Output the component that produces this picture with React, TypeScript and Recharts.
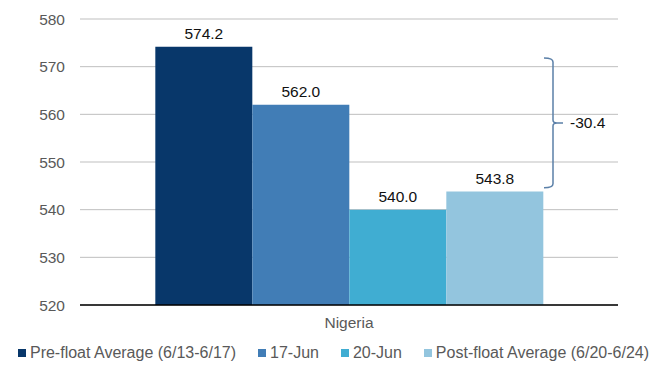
import React from "react"
import { BarChart, Bar, XAxis, YAxis, CartesianGrid, Legend, LabelList, ReferenceArea } from "recharts"

const categories = ["Nigeria"]
const seriesNames = ["Pre-float Average (6/13-6/17)", "17-Jun", "20-Jun", "Post-float Average (6/20-6/24)"]
const seriesValues = [574.2, 562.0, 540.0, 543.8]
const seriesColors = ["#08376A", "#417DB6", "#40ADD2", "#93C5DE"]
const yTicks = [520, 530, 540, 550, 560, 570, 580]
// span of the brace on the right (drawn a little inside the two bar tops)
const braceRange = [544.6, 571.8]

const data = categories.map((name) => {
  const row: Record<string, string | number> = { name }
  seriesNames.forEach((s, i) => {
    row[s] = seriesValues[i]
  })
  return row
})

const change = seriesValues[3] - seriesValues[0]

const FONT = "'Liberation Sans', Arial, sans-serif"

const Brace = (props: any) => {
  const { x, y, width, height } = props
  const bx = x + width - 65
  const top = y
  const bottom = y + height
  const mid = (top + bottom) / 2
  const d = `M ${bx - 9} ${top} Q ${bx} ${top} ${bx} ${top + 4} L ${bx} ${mid - 3} Q ${bx} ${mid} ${bx + 4} ${mid} L ${bx + 10} ${mid} M ${bx + 4} ${mid} Q ${bx} ${mid} ${bx} ${mid + 3} L ${bx} ${bottom - 4} Q ${bx} ${bottom} ${bx - 9} ${bottom}`
  return (
    <g>
      <path d={d} fill="none" stroke="#5B80A8" strokeWidth={1.5} />
      <text x={bx + 17} y={mid} dy="0.35em" fontSize={15.5} fill="#111" fontFamily={FONT}>
        {change.toFixed(1)}
      </text>
    </g>
  )
}

const LegendContent = () => (
  <div
    style={{
      display: "flex",
      justifyContent: "center",
      gap: 22,
      fontFamily: FONT,
      fontSize: 16,
      color: "#595959",
      whiteSpace: "nowrap",
      width: 667,
      paddingLeft: 0,
      boxSizing: "border-box",
    }}
  >
    {seriesNames.map((s, i) => (
      <span key={s} style={{ display: "flex", alignItems: "center" }}>
        <span style={{ width: 8, height: 8, background: seriesColors[i], marginRight: 4, display: "inline-block" }} />
        {s}
      </span>
    ))}
  </div>
)

export default function App() {
  return (
    <div style={{ position: "absolute", left: 0, top: 0, background: "#fff" }}>
      <BarChart
        width={667}
        height={373}
        data={data}
        margin={{ top: 19, right: 49, left: 0, bottom: 5 }}
        barCategoryGap="14%"
        barGap={0}
      >
        <CartesianGrid vertical={false} stroke="#BFBFBF" />
        <XAxis
          dataKey="name"
          height={39}
          axisLine={{ stroke: "#000", strokeWidth: 1.3 }}
          tickLine={false}
          tickMargin={6}
          tick={{ fontSize: 15.5, fill: "#595959", fontFamily: FONT }}
        />
        <YAxis
          width={80}
          domain={[520, 580]}
          ticks={yTicks}
          axisLine={false}
          tickLine={false}
          tickMargin={9}
          tick={{ fontSize: 15.5, fill: "#595959", fontFamily: FONT }}
          allowDataOverflow
        />
        <Legend
          verticalAlign="bottom"
          height={24}
          width={667}
          wrapperStyle={{ left: 0, width: 667 }}
          content={<LegendContent />}
        />
        {seriesNames.map((s, i) => (
          <Bar key={s} dataKey={s} fill={seriesColors[i]} isAnimationActive={false}>
            <LabelList
              dataKey={s}
              position="top"
              offset={8}
              formatter={(v: any) => Number(v).toFixed(1)}
              style={{ fontSize: 15.5, fill: "#111", fontFamily: FONT }}
            />
          </Bar>
        ))}
        <ReferenceArea y1={braceRange[0]} y2={braceRange[1]} shape={<Brace />} ifOverflow="visible" />
      </BarChart>
    </div>
  )
}
